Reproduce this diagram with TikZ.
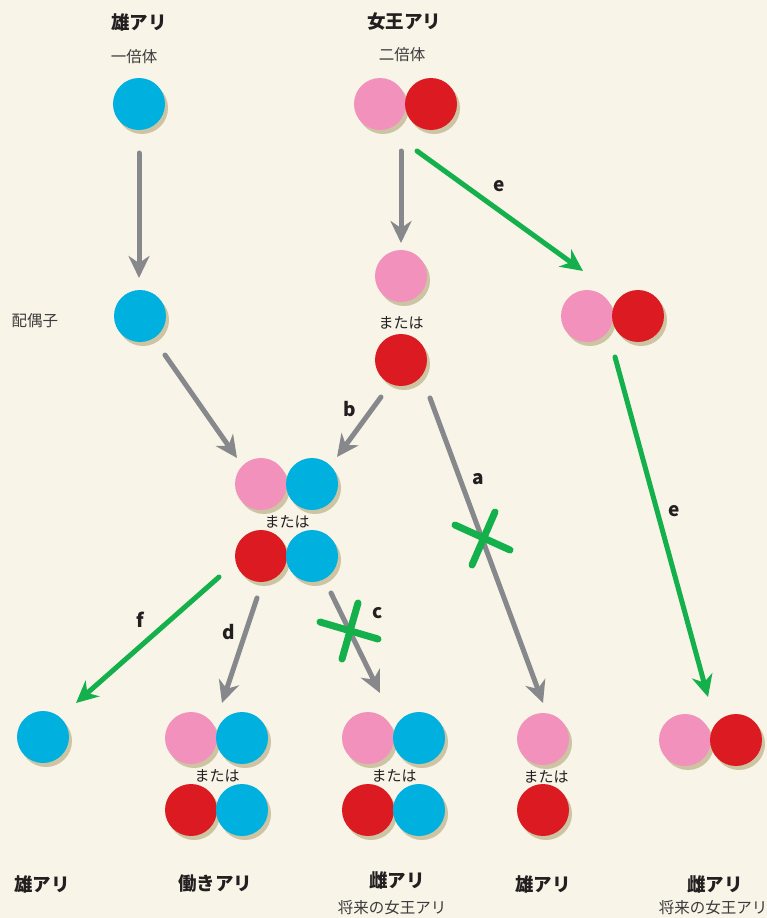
\documentclass[tikz,border=0pt]{standalone}
\usepackage{fontspec}
\usetikzlibrary{arrows.meta}
\newfontfamily\jp{Noto Sans CJK JP}
\definecolor{bg}{HTML}{F8F4E8}
\definecolor{shad}{HTML}{CCC4A3}
\definecolor{cblue}{HTML}{00B0DF}
\definecolor{cpink}{HTML}{F292BC}
\definecolor{cred}{HTML}{DC1A22}
\definecolor{agray}{HTML}{87888B}
\definecolor{agreen}{HTML}{14B04B}
\definecolor{tdark}{HTML}{231F20}
\definecolor{tsoft}{HTML}{3C3A3B}
\tikzset{
  ball/.style={circle,inner sep=0pt,minimum size=52pt,
    preaction={fill=shad,transform canvas={xshift=3pt,yshift=-4pt}}},
  bblue/.style={ball,fill=cblue},
  bpink/.style={ball,fill=cpink},
  bred/.style={ball,fill=cred},
  garrow/.style={draw=agray,line width=5pt,line cap=round,
    -{Stealth[length=22pt,width=21pt,inset=7pt]}},
  grarrow/.style={draw=agreen,line width=5pt,line cap=round,
    -{Stealth[length=22pt,width=21pt,inset=7pt]}},
  crossarm/.style={draw=agreen,line width=7pt,line cap=round},
  title/.style={font=\jp\bfseries\fontsize{18.5}{20}\selectfont,text=tdark},
  sub/.style={font=\jp\fontsize{15.5}{17}\selectfont,text=tsoft},
  orlbl/.style={font=\jp\fontsize{15}{17}\selectfont,text=tdark},
  letter/.style={font=\jp\bfseries\fontsize{19}{21}\selectfont,text=tdark}
}
\begin{document}
\begin{tikzpicture}[x=1pt,y=-1pt]
\fill[bg] (0,0) rectangle (767,918);
\useasboundingbox (0,0) rectangle (767,918);

% top labels
\node[title] (tmale) at (139,22) {雄アリ};
\node[sub] (tmale2) at (134,57) {一倍体};
\node[title] (tqueen) at (404,22) {女王アリ};
\node[sub] (tqueen2) at (402,55) {二倍体};
\node[sub] (gamete) at (35,321) {配偶子};

% top balls
\node[bblue] (m0) at (139,104) {};
\node[bpink] (q0a) at (380,104) {};
\node[bred] (q0b) at (431,104) {};

% gametes
\node[bblue] (mg) at (140,316) {};
\node[bpink] (qg1) at (401,276) {};
\node[orlbl] (or1) at (401,323) {または};
\node[bred] (qg2) at (401,360) {};
\node[bpink] (e1a) at (587,316) {};
\node[bred] (e1b) at (638,316) {};

% zygotes
\node[bpink] (z1a) at (261,484) {};
\node[bblue] (z1b) at (312,484) {};
\node[orlbl] (or2) at (287,522) {または};
\node[bred] (z2a) at (261,556) {};
\node[bblue] (z2b) at (312,556) {};

% bottom row
\node[bblue] (f1) at (43,737) {};

\node[bpink] (d1a) at (191,738) {};
\node[bblue] (d1b) at (242,738) {};
\node[orlbl] (or3) at (217,776) {または};
\node[bred] (d2a) at (191,810) {};
\node[bblue] (d2b) at (242,810) {};

\node[bpink] (c1a) at (368,738) {};
\node[bblue] (c1b) at (419,738) {};
\node[orlbl] (or4) at (394,776) {または};
\node[bred] (c2a) at (368,810) {};
\node[bblue] (c2b) at (419,810) {};

\node[bpink] (a1) at (543,739) {};
\node[orlbl] (or5) at (546,777) {または};
\node[bred] (a2) at (543,810) {};

\node[bpink] (e2a) at (685,740) {};
\node[bred] (e2b) at (736,740) {};

% bottom labels
\node[title] (l1) at (42,884) {雄アリ};
\node[title] (l2) at (215,884) {働きアリ};
\node[title] (l3) at (397,880) {雌アリ};
\node[sub] (l3b) at (392,908) {将来の女王アリ};
\node[title] (l4) at (543,884) {雄アリ};
\node[title] (l5) at (715,884) {雌アリ};
\node[sub] (l5b) at (713,908) {将来の女王アリ};

% arrow coordinates
\coordinate (s1) at (139,153); \coordinate (t1) at (139,278);
\coordinate (s2) at (401,151); \coordinate (t2) at (401,243);
\coordinate (s3) at (417,151); \coordinate (t3) at (583,271);
\coordinate (s4) at (165,355); \coordinate (t4) at (237,458);
\coordinate (s5) at (381,397); \coordinate (t5) at (337,457);
\coordinate (s6) at (430,398); \coordinate (t6) at (543,703);
\coordinate (s7) at (615,357); \coordinate (t7) at (708,697);
\coordinate (s8) at (219,577); \coordinate (t8) at (76,703);
\coordinate (s9) at (257,598); \coordinate (t9) at (222,703);
\coordinate (s10) at (331,593); \coordinate (t10) at (380,693);

\draw[garrow] (s1) -- (t1);
\draw[garrow] (s2) -- (t2);
\draw[grarrow] (s3) -- (t3);
\draw[garrow] (s4) -- (t4);
\draw[garrow] (s5) -- (t5);
\draw[garrow] (s6) -- (t6);
\draw[grarrow] (s7) -- (t7);
\draw[grarrow] (s8) -- (t8);
\draw[garrow] (s9) -- (t9);
\draw[garrow] (s10) -- (t10);

% crosses
\coordinate (xa1) at (455,525); \coordinate (xa2) at (510,550);
\coordinate (xa3) at (495,512); \coordinate (xa4) at (472,565);
\draw[crossarm] (xa1) -- (xa2);
\draw[crossarm] (xa3) -- (xa4);
\coordinate (xc1) at (320,622); \coordinate (xc2) at (378,639);
\coordinate (xc3) at (358,603); \coordinate (xc4) at (342,659);
\draw[crossarm] (xc1) -- (xc2);
\draw[crossarm] (xc3) -- (xc4);

% letters
\node[letter] (la) at (478,479) {a};
\node[letter] (lb) at (350,409) {b};
\node[letter] (lc) at (378,613) {c};
\node[letter] (ld) at (229,632) {d};
\node[letter] (le1) at (499,186) {e};
\node[letter] (le2) at (674,511) {e};
\node[letter] (lf) at (140,620) {f};
\end{tikzpicture}
\end{document}
